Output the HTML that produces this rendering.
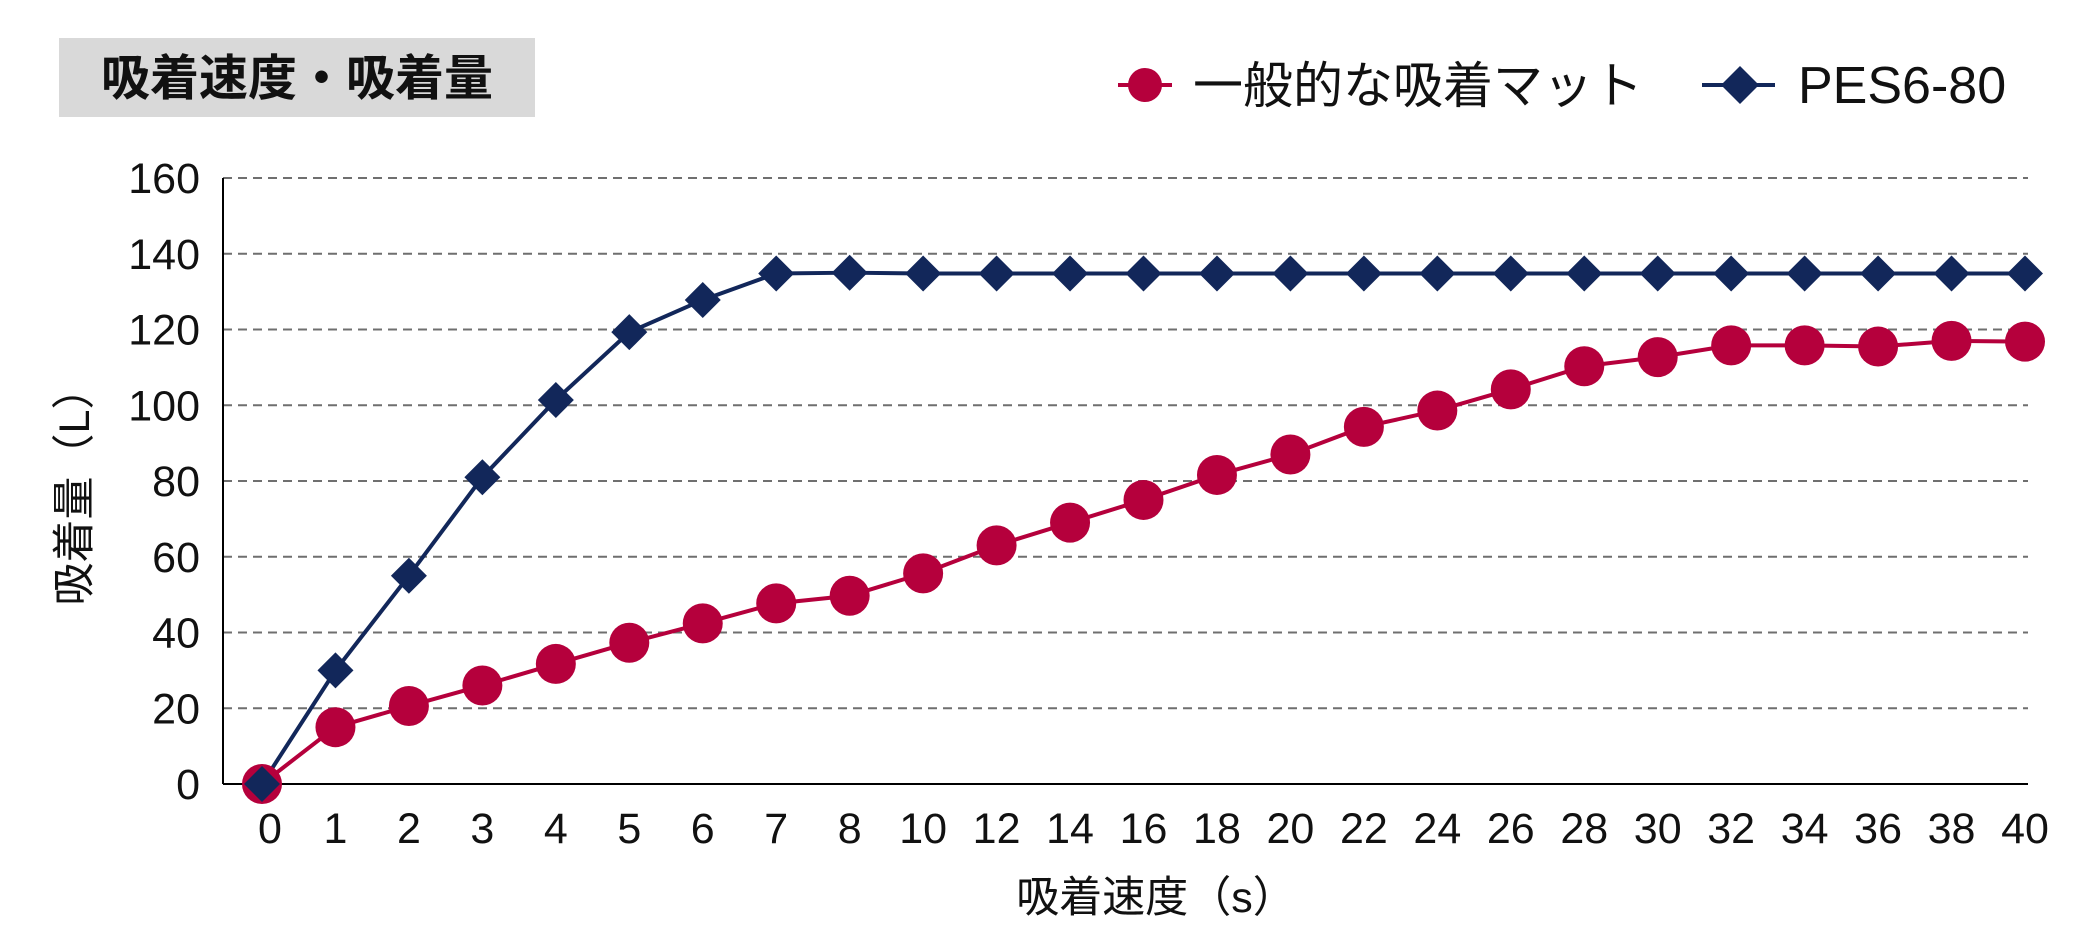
<!DOCTYPE html>
<html><head><meta charset="utf-8"><style>
html,body{margin:0;padding:0;background:#fff;}
svg{display:block;font-family:"Liberation Sans","Noto Sans CJK JP",sans-serif;}
</style></head><body>
<svg id="chart" width="2090" height="941" viewBox="0 0 2090 941">
<rect x="59" y="38" width="476" height="79" fill="#d9d9d9"/>
<text x="297" y="95" text-anchor="middle" font-size="49" font-weight="bold" fill="#111">吸着速度・吸着量</text>
<g>
<g>
<line x1="1118" y1="85" x2="1172" y2="85" stroke="#B5003C" stroke-width="4"/>
<circle cx="1145" cy="85" r="17" fill="#B5003C"/>
<text x="1193" y="103" font-size="50" fill="#111">一般的な吸着マット</text>
</g>
<g>
<line x1="1702" y1="85" x2="1775" y2="85" stroke="#12275A" stroke-width="4"/>
<polygon points="1740,66 1759,85 1740,104 1721,85" fill="#12275A"/>
<text x="1798" y="103" font-size="52" fill="#111">PES6-80</text>
</g>
</g>
<g id="grid"></g>
<g id="yticks"></g>
<g id="xticks"></g>
<line x1="223" y1="178" x2="223" y2="784" stroke="#000" stroke-width="2"/>
<line x1="223" y1="784" x2="2028" y2="784" stroke="#000" stroke-width="2"/>
<g id="series"></g>
<text x="1156" y="912" text-anchor="middle" font-size="43" fill="#111">吸着速度（s）</text>
<text transform="translate(89,486) rotate(-90)" text-anchor="middle" font-size="43" fill="#111">吸着量（L）</text>
</svg>
<script>
const categories = ["0","1","2","3","4","5","6","7","8","10","12","14","16","18","20","22","24","26","28","30","32","34","36","38","40"];
const generalMat = [0,15,20.6,26,31.7,37.3,42.4,47.7,49.7,55.6,63,69,75,81.6,87,94.3,98.6,104.2,110.3,112.7,115.8,115.8,115.5,117,116.8];
const pes680 = [0,30,55,81,101.4,119.3,127.8,134.8,135,134.8,134.8,134.8,134.8,134.8,134.8,134.8,134.8,134.8,134.8,134.8,134.8,134.8,134.8,134.8,134.8];
const yTicks = [0,20,40,60,80,100,120,140,160];
const NS = "http://www.w3.org/2000/svg";
const x0 = 262, x1 = 2025, yZero = 784, yTop = 178, yMax = 160;
function xPos(i){ return x0 + (x1 - x0) * i / (categories.length - 1); }
function yPos(v){ return yZero - (yZero - yTop) * v / yMax; }
function mk(tag, attrs, parent){ const e = document.createElementNS(NS, tag); for (const k in attrs) e.setAttribute(k, attrs[k]); parent.appendChild(e); return e; }
const grid = document.getElementById('grid'), yt = document.getElementById('yticks'), xt = document.getElementById('xticks'), ser = document.getElementById('series');
yTicks.forEach(v => {
  if (v > 0) {
    const l = mk('line', {x1:223, x2:2028, y1:yPos(v), y2:yPos(v), stroke:'#6f6f6f', 'stroke-width':2, 'stroke-dasharray':'9,6'}, grid);
    
    
  }
  const t = mk('text', {x:200, y:yPos(v) + 15, 'text-anchor':'end', 'font-size':43, fill:'#111'}, yt);
  t.textContent = v;
  
  
});
categories.forEach((c, i) => {
  const t = mk('text', {x:xPos(i) + (i === 0 ? 8 : 0), y:843, 'text-anchor':'middle', 'font-size':43, fill:'#111'}, xt);
  t.textContent = c;
  
  
});
function drawLine(vals, color, name){
  const p = mk('polyline', {points: vals.map((v, i) => xPos(i) + ',' + yPos(v)).join(' '), fill:'none', stroke:color, 'stroke-width':4}, ser);
  
  
}
drawLine(generalMat, '#B5003C', 'general-mat');
drawLine(pes680, '#12275A', 'pes6-80');
generalMat.forEach((v, i) => {
  const c = mk('circle', {cx:xPos(i), cy:yPos(v), r:20, fill:'#B5003C'}, ser);
  
  
});
pes680.forEach((v, i) => {
  const x = xPos(i), y = yPos(v), h = 18;
  const d = mk('polygon', {points: `${x},${y-h} ${x+h},${y} ${x},${y+h} ${x-h},${y}`, fill:'#12275A'}, ser);
  
  
});
</script>
</body></html>
